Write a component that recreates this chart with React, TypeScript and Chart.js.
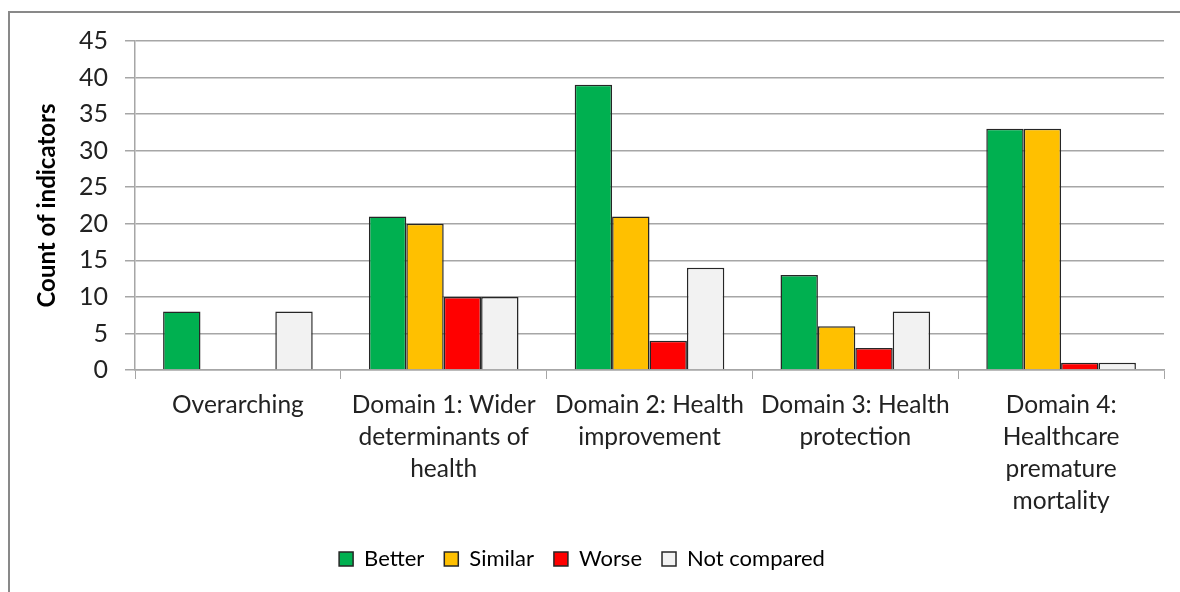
import React, { useEffect, useRef } from "react";
import { Chart, registerables } from "chart.js";

Chart.register(...registerables);

const categories: (string | string[])[] = [
  "Overarching",
  ["Domain 1: Wider", "determinants of", "health"],
  ["Domain 2: Health", "improvement"],
  ["Domain 3: Health", "protection"],
  ["Domain 4:", "Healthcare", "premature", "mortality"],
];
const better = [8, 21, 39, 13, 33];
const similar = [0, 20, 21, 6, 33];
const worse = [0, 10, 4, 3, 1];
const notCompared = [8, 10, 14, 8, 1];
const yMin = 0;
const yMax = 45;
const yStep = 5;
const yTitle = "Count of indicators";

const FONT = "Lato";
const GRID = "#a6a6a6";
const EDGE = "#262626";

export default function App() {
  const ref = useRef<HTMLCanvasElement | null>(null);

  useEffect(() => {
    if (!ref.current) return;
    const mk = (label: string, data: number[], color: string) => ({
      label,
      data,
      backgroundColor: color,
      borderColor: EDGE,
      borderWidth: 1.5,
      categoryPercentage: 0.727,
      barPercentage: 1,
    });
    const chart = new Chart(ref.current, {
      type: "bar",
      data: {
        labels: categories,
        datasets: [
          mk("Better", better, "#00b050"),
          mk("Similar", similar, "#ffc000"),
          mk("Worse", worse, "#ff0000"),
          mk("Not compared", notCompared, "#f2f2f2"),
        ],
      },
      options: {
        animation: false,
        responsive: true,
        maintainAspectRatio: false,
        layout: { padding: { left: 0, right: 16, top: 41, bottom: 12 } },
        plugins: {
          tooltip: { enabled: false },
          legend: {
            position: "bottom",
            labels: {
              boxWidth: 14,
              boxHeight: 14,
              padding: 20,
              color: "#000",
              font: { family: FONT, size: 22 },
            },
          },
        },
        scales: {
          x: {
            afterFit: (s: any) => {
              s.height = 158;
            },
            grid: {
              drawOnChartArea: false,
              drawTicks: true,
              tickLength: 9,
              color: GRID,
              offset: true,
            },
            border: { display: true, color: GRID, width: 1.5 },
            ticks: {
              autoSkip: false,
              maxRotation: 0,
              minRotation: 0,
              padding: 10,
              color: "#222",
              font: { family: FONT, size: 24.5, lineHeight: "32px" },
            },
          },
          y: {
            min: yMin,
            max: yMax,
            afterFit: (s: any) => {
              s.width = 135;
            },
            grid: { color: GRID, lineWidth: 1.5, tickLength: 10 },
            border: { display: true, color: GRID, width: 1.5 },
            ticks: {
              stepSize: yStep,
              padding: 17,
              color: "#222",
              font: { family: FONT, size: 25 },
            },
            title: {
              display: true,
              text: yTitle,
              color: "#000",
              padding: { top: 33, bottom: 0 },
              font: { family: FONT, size: 24, weight: "bold" },
            },
          },
        },
      },
    } as any);
    return () => chart.destroy();
  }, []);

  return (
    <div
      style={{
        position: "fixed",
        left: 0,
        top: 0,
        width: 1180,
        height: 592,
        overflow: "hidden",
        background: "#fff",
      }}
    >
      <div
        style={{
          position: "absolute",
          left: 8,
          top: 11,
          width: 1200,
          height: 700,
          border: "2px solid #898989",
          boxSizing: "border-box",
        }}
      />
      <div style={{ position: "absolute", left: 0, top: 0, width: 1180, height: 592 }}>
        <canvas ref={ref} />
      </div>
    </div>
  );
}
